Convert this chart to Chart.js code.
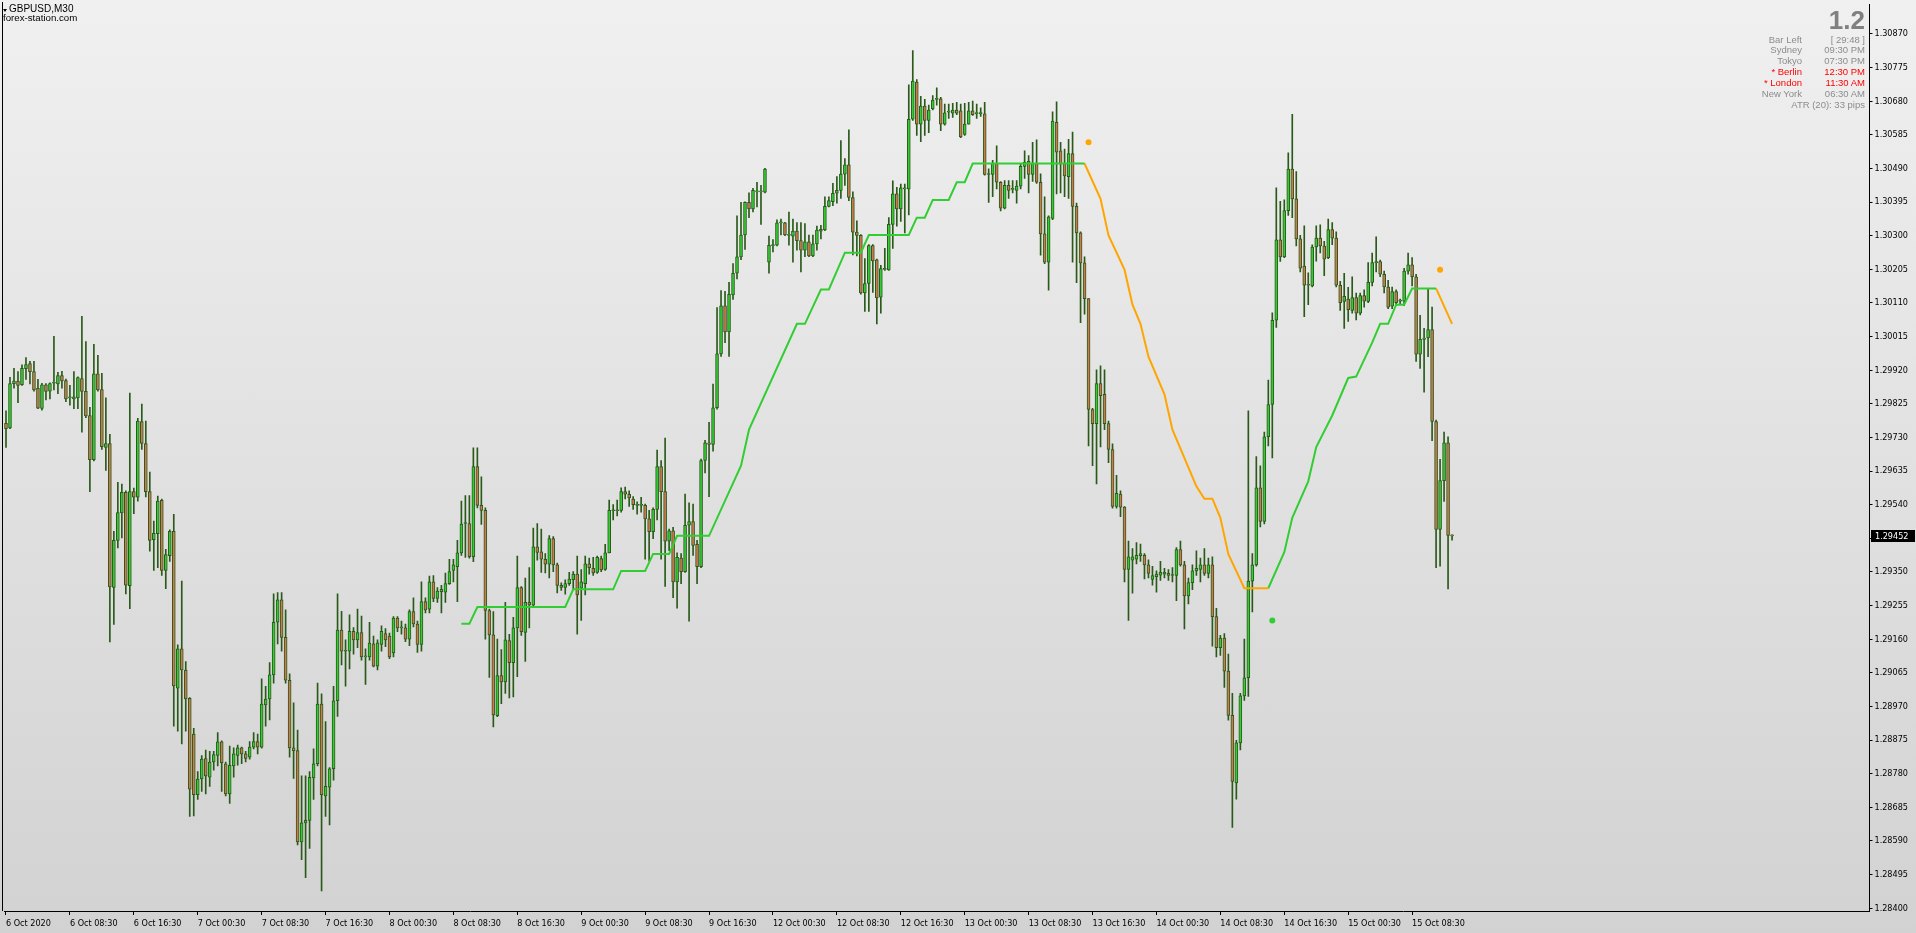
<!DOCTYPE html>
<html><head><meta charset="utf-8">
<script src="https://cdn.jsdelivr.net/npm/chart.js@4.4.0/dist/chart.umd.min.js"></script>
<style>
html,body{margin:0;padding:0;width:1916px;height:933px;overflow:hidden;}
#wrap{position:relative;width:1916px;height:933px;background:linear-gradient(to bottom,#f0f0f0 0%,#d2d2d2 100%);}
canvas{position:absolute;left:0;top:0;}
.t{position:absolute;white-space:nowrap;font-family:"Liberation Sans",Arial,sans-serif;}
#tri{position:absolute;left:3px;top:9px;width:0;height:0;border-left:2px solid transparent;border-right:2px solid transparent;border-top:3px solid #000;}
#sym{left:9px;top:3px;font-size:10px;line-height:11px;color:#000;}
#site{left:3px;top:12px;font-size:9.7px;line-height:11px;color:#000;}
#big{right:51px;top:7px;font-size:26px;line-height:26px;font-weight:bold;color:#808080;}
.lab,.val{font-size:9.5px;line-height:11px;color:#8c8c8c;text-align:right;}
.lab{right:114px;} .val{right:51px;}
.red{color:#ff0000;}
</style></head><body>
<div id="wrap">
<canvas id="c" width="1916" height="933"></canvas>
<div id="tri"></div>
<div class="t" id="sym">GBPUSD,M30</div>
<div class="t" id="site">forex-station.com</div>
<div class="t" id="big">1.2</div>
<div class="t lab" style="top:33.5px">Bar Left</div><div class="t val" style="top:33.5px">[ 29:48 ]</div>
<div class="t lab" style="top:44.4px">Sydney</div><div class="t val" style="top:44.4px">09:30 PM</div>
<div class="t lab" style="top:55.3px">Tokyo</div><div class="t val" style="top:55.3px">07:30 PM</div>
<div class="t lab red" style="top:66.2px">* Berlin</div><div class="t val red" style="top:66.2px">12:30 PM</div>
<div class="t lab red" style="top:77.1px">* London</div><div class="t val red" style="top:77.1px">11:30 AM</div>
<div class="t lab" style="top:88px">New York</div><div class="t val" style="top:88px">06:30 AM</div>
<div class="t val" style="top:99px">ATR (20): 33 pips</div>
</div>
<script>
// ---- data (prices in points, 1 point = 0.00001) ----
const openPts = [
129770,129757,129882,129889,129879,129924,129939,129916,129869,129812,
129879,129861,129883,129881,129905,129891,129842,129839,129842,129896,
129860,129792,129667,129910,129865,129702,129713,129306,129439,129517,
129575,129311,129577,129561,129775,129713,129577,129441,129458,129552,
129354,129396,129465,129022,129133,129073,128993,128892,128721,128765,
128823,128770,128813,128832,128870,128808,128723,128802,128832,128853,
128836,128827,128855,128871,128855,128974,128991,129059,129208,129271,
129165,129044,128853,128845,128587,128641,128648,128768,128808,128977,
128717,128742,128794,128986,129186,129126,129126,129182,129158,129179,
129110,129110,129147,129084,129145,129176,129169,129121,129220,129192,
129192,129160,129238,129203,129145,129266,129245,129322,129275,129294,
129293,129317,129354,129365,129404,129487,129487,129393,129648,129538,
129524,129241,129172,128944,129057,129039,129156,129094,129192,129306,
129179,129264,129256,129421,129407,129386,129372,129444,129370,129312,
129306,129317,129328,129344,129304,129317,129373,129360,129349,129388,
129357,129404,129523,129523,129524,129577,129569,129556,129538,129538,
129538,129500,129464,129527,129648,129577,129437,129466,129322,129389,
129351,129482,129492,129428,129365,129665,129715,129710,129814,129966,
130102,130028,130133,130194,130240,130302,130394,130376,130424,130424,
130423,130225,130272,130273,130336,130336,130301,130299,130313,130286,
130259,130283,130243,130277,130313,130316,130383,130396,130420,130428,
130474,130500,130408,130310,130301,130138,130165,130272,130232,130126,
130205,130203,130332,130418,130376,130432,130432,130629,130734,130615,
130666,130626,130658,130685,130687,130615,130649,130646,130655,130653,
130586,130615,130653,130645,130645,130644,130473,130473,130504,130451,
130378,130442,130431,130428,130440,130496,130510,130473,130504,130451,
130305,130225,130349,130620,130540,130504,130467,130532,130383,130308,
130223,130122,129809,129769,129882,129852,129769,129696,129535,129570,
129533,129357,129383,129386,129396,129397,129370,129329,129337,129341,
129344,129346,129340,129340,129413,129370,129282,129320,129353,129357,
129370,129346,129370,129224,129136,129163,129070,128945,128754,128867,
129000,129051,129324,129370,129588,129493,129732,129823,130061,130288,
130240,130371,130488,130404,130291,130214,130160,130158,130268,130293,
130271,130238,130317,130293,130160,130114,130121,130089,130125,130081,
130131,130114,130168,130224,130227,130191,130155,130101,130142,130115,
130115,130200,130218,130184,129965,130007,130011,130035,129775,129470,
129608,129715,129453];
const highPts = [
129805,129900,129925,129916,129935,129956,129945,129945,129894,129883,
129882,129884,130016,129914,129917,129895,129877,129916,129901,130072,
130001,129815,129993,129962,129911,129842,129739,129465,129603,129598,
129579,129855,129587,129784,129824,129776,129632,129494,129564,129556,
129414,129469,129513,129144,129324,129097,128995,128908,128786,128831,
128847,128843,128843,128896,128873,128813,128858,128853,128861,128855,
128843,128871,128896,128892,129048,129027,129094,129288,129292,129292,
129243,129062,128980,128903,128774,128774,128786,128850,129036,129006,
128927,128797,129027,129288,129239,129158,129229,129193,129245,129225,
129133,129208,129169,129158,129198,129190,129177,129224,129224,129211,
129203,129243,129277,129211,129322,129277,129338,129340,129306,129312,
129347,129386,129386,129439,129550,129566,129566,129701,129701,129619,
129531,129245,129238,129160,129131,129264,129174,129222,129395,129309,
129333,129362,129474,129487,129471,129402,129453,129450,129375,129319,
129328,129349,129351,129395,129357,129395,129389,129391,129395,129395,
129428,129553,129540,129553,129588,129590,129579,129563,129548,129561,
129542,129524,129531,129694,129665,129728,129471,129476,129404,129402,
129570,129545,129542,129439,129669,129722,129773,129881,130097,130145,
130143,130168,130221,130356,130394,130396,130421,130434,130451,130442,
130490,130299,130289,130345,130347,130338,130367,130347,130337,130337,
130334,130302,130302,130327,130329,130410,130410,130448,130467,130569,
130518,130599,130424,130342,130303,130235,130275,130275,130234,130216,
130264,130351,130455,130437,130446,130446,130726,130823,130741,130694,
130685,130669,130696,130718,130691,130672,130672,130674,130677,130672,
130674,130677,130680,130672,130661,130677,130489,130513,130554,130453,
130456,130456,130456,130456,130504,130540,130526,130564,130571,130475,
130410,130356,130650,130678,130564,130545,130572,130593,130392,130311,
130240,130122,129812,129921,129932,129921,129776,129712,129623,129579,
129535,129437,129416,129433,129429,129402,129384,129366,129353,129380,
129360,129357,129362,129419,129437,129380,129333,129370,129410,129389,
129416,129389,129393,129247,129171,129176,129118,129007,128874,129007,
129160,129805,129402,129676,129650,129745,129892,130082,130435,130397,
130401,130534,130643,130481,130301,130328,130195,130274,130328,130331,
130284,130347,130337,130311,130171,130194,130154,130184,130138,130138,
130147,130224,130251,130297,130231,130200,130174,130155,130147,130121,
130208,130251,130238,130191,130075,130038,130151,130098,129779,129668,
129745,129732,129455];
const lowPts = [
129702,129755,129869,129828,129877,129894,129881,129861,129811,129807,
129836,129839,129864,129854,129869,129831,129821,129811,129811,129745,
129786,129577,129664,129861,129696,129637,129152,129202,129418,129446,
129288,129246,129515,129550,129696,129562,129409,129354,129362,129340,
129303,129380,128914,128900,128864,128900,128659,128661,128707,128730,
128723,128744,128790,128802,128730,128717,128696,128770,128804,128808,
128813,128821,128850,128836,128852,128914,128932,129036,129147,129126,
129036,128827,128767,128579,128537,128486,128569,128707,128802,128449,
128659,128635,128762,128942,129087,129027,129076,129118,129136,129101,
129032,129101,129082,129073,129126,129139,129105,129110,129181,129174,
129153,129142,129195,129123,129126,129234,129234,129266,129264,129234,
129264,129315,129322,129266,129397,129391,129389,129379,129531,129484,
129160,129052,128912,128941,128978,129007,128994,128997,129054,129171,
129097,129192,129253,129383,129349,129347,129333,129351,129291,129298,
129287,129312,129301,129174,129213,129285,129344,129340,129346,129351,
129354,129404,129497,129508,129519,129556,129535,129527,129513,129519,
129386,129381,129444,129497,129386,129309,129410,129277,129248,129317,
129349,129211,129397,129317,129362,129630,129563,129691,129810,129959,
129998,129959,130120,130178,130232,130261,130351,130367,130381,130332,
130421,130194,130254,130271,130302,130300,130273,130225,130259,130198,
130241,130241,130241,130259,130291,130314,130381,130385,130392,130405,
130442,130399,130246,130243,130135,130086,130086,130140,130051,130081,
130202,130202,130264,130327,130340,130308,130359,130626,130583,130566,
130583,130591,130655,130669,130597,130612,130631,130634,130642,130577,
130583,130615,130640,130631,130637,130471,130394,130410,130432,130370,
130376,130405,130421,130392,130432,130462,130421,130453,130448,130245,
130221,130146,130345,130418,130421,130410,130405,130225,130167,130054,
130078,129706,129650,129599,129703,129752,129659,129530,129530,129506,
129322,129213,129290,129373,129380,129330,129333,129313,129293,129326,
129333,129326,129322,129269,129366,129189,129260,129300,129340,129322,
129340,129333,129140,129110,129114,129024,128931,128628,128708,128847,
128987,128998,129237,129366,129477,129486,129706,129672,130041,130227,
130238,130357,130351,130271,130198,130071,130105,130155,130228,130251,
130187,130235,130275,130155,130089,130038,130058,130081,130062,130076,
130098,130111,130158,130198,130184,130138,130094,130094,130102,130105,
130102,130191,130158,129945,129925,129858,129958,129721,129362,129366,
129549,129302,129440];
const closePts = [
129755,129882,129889,129877,129925,129936,129916,129864,129813,129879,
129860,129882,129883,129905,129890,129839,129842,129845,129899,129860,
129791,129667,129910,129864,129704,129713,129308,129439,129518,129575,
129313,129577,129561,129776,129713,129577,129439,129459,129550,129354,
129399,129465,129028,129133,129073,128991,128736,128721,128765,128821,
128774,128813,128834,128870,128811,128723,128804,128836,128853,128836,
128823,128855,128871,128855,128977,128991,129059,129208,129271,129165,
129044,128853,128845,128587,128641,128648,128770,128808,128977,128721,
128744,128794,128986,129186,129126,129126,129182,129158,129179,129110,
129110,129149,129084,129150,129182,129158,129110,129220,129192,129192,
129160,129238,129203,129145,129266,129243,129322,129275,129296,129301,
129317,129351,129370,129404,129485,129487,129393,129648,129538,129524,
129241,129172,128946,129057,129039,129158,129094,129192,129306,129181,
129264,129257,129421,129405,129386,129372,129444,129370,129312,129306,
129317,129330,129344,129285,129322,129373,129362,129347,129391,129356,
129404,129524,129523,129523,129577,129570,129559,129540,129538,129538,
129500,129464,129527,129648,129577,129437,129466,129322,129391,129351,
129482,129492,129425,129365,129665,129715,129710,129814,129966,130102,
130028,130134,130194,130240,130302,130394,130376,130428,130424,130424,
130488,130273,130272,130336,130336,130302,130301,130313,130286,130259,
130283,130243,130277,130316,130318,130383,130399,130420,130428,130474,
130500,130408,130310,130301,130138,130165,130272,130229,130124,130207,
130205,130332,130418,130376,130435,130435,130629,130737,130615,130666,
130626,130655,130683,130685,130615,130647,130649,130655,130646,130579,
130615,130653,130642,130645,130645,130473,130473,130504,130451,130378,
130442,130428,130431,130440,130496,130507,130473,130504,130451,130305,
130225,130353,130624,130536,130502,130469,130532,130383,130308,130223,
130122,129809,129769,129882,129848,129769,129696,129535,129572,129533,
129357,129393,129393,129397,129402,129370,129346,129340,129344,129349,
129349,129340,129340,129413,129370,129282,129320,129353,129360,129370,
129346,129370,129224,129136,129163,129070,128945,128758,128867,129000,
129051,129324,129370,129588,129493,129732,129823,130061,130288,130240,
130371,130488,130404,130291,130208,130160,130160,130268,130293,130271,
130234,130317,130293,130160,130111,130129,130091,130125,130081,130131,
130115,130168,130224,130224,130191,130155,130098,130142,130111,130115,
130200,130218,130184,129965,130007,130011,130035,129775,129470,129608,
129715,129453,129452];

// trailing-line vertices (bar index, price in points)
const greenBars1 = [114,116,118,140,142,152,154,160,162,166,168,176,184,186,198,200,204,206,210,214,216,226,228,230,232,236,238,240,242,270];
const greenVals1 = [129204,129204,129251,129251,129301,129301,129353,129353,129401,129401,129452,129452,129650,129752,130051,130051,130148,130148,130252,130252,130302,130302,130351,130351,130401,130401,130451,130451,130504,130504];
const orangeBars1 = [270,274,276,280,282,284,286,290,292,298,300,302,304,306,310,316];
const orangeVals1 = [130504,130404,130301,130204,130105,130051,129958,129852,129752,129592,129557,129557,129503,129400,129304,129304];
const greenBars2 = [316,320,322,326,328,332,336,338,342,344,346,348,350,352,358];
const greenVals2 = [129304,129406,129503,129606,129703,129792,129898,129902,129998,130051,130051,130105,130105,130151,130151];
const orangeBars2 = [358,362];
const orangeVals2 = [130151,130051];
const orangeDotBars = [271,359];
const orangeDotVals = [130564,130204];
const greenDotBars = [317];
const greenDotVals = [129213];

const xTickLabels = ['6 Oct 2020','6 Oct 08:30','6 Oct 16:30','7 Oct 00:30','7 Oct 08:30','7 Oct 16:30','8 Oct 00:30','8 Oct 08:30','8 Oct 16:30','9 Oct 00:30','9 Oct 08:30','9 Oct 16:30','12 Oct 00:30','12 Oct 08:30','12 Oct 16:30','13 Oct 00:30','13 Oct 08:30','13 Oct 16:30','14 Oct 00:30','14 Oct 08:30','14 Oct 16:30','15 Oct 00:30','15 Oct 08:30'];
const yTickLabels = [1.28400,1.28495,1.28590,1.28685,1.28780,1.28875,1.28970,1.29065,1.29160,1.29255,1.29350,1.29445,1.29540,1.29635,1.29730,1.29825,1.29920,1.30015,1.30110,1.30205,1.30300,1.30395,1.30490,1.30585,1.30680,1.30775,1.30870];
// --------------------------------------------------

const P = v => v / 100000;
const open = openPts.map(P), high = highPts.map(P), low = lowPts.map(P), close = closePts.map(P);
const N = open.length;
const SLOTS = 467;          // visible bar slots incl. empty right margin
const LABEL_EVERY = 16;
const Y_MIN = 1.283921, Y_MAX = 1.309546;

const OUTLINE = '#2a5a1a', BULL = '#33cc33', BEAR = '#cd7a4e', GREEN = '#32cd32', ORANGE = '#ffa500';
const AXFONT = {family: '"DejaVu Sans Condensed","Liberation Sans",Arial,sans-serif', size: 9};

const slots = Array.from({length: SLOTS}, (_, i) => String(i));
const wickData = slots.map((_, i) => i < N ? [low[i], high[i]] : null);
const bodyData = slots.map((_, i) => i < N ? [open[i], close[i]] : null);
const series = (bars, vals) => { const a = new Array(SLOTS).fill(null); bars.forEach((b, i) => { a[b] = P(vals[i]); }); return a; };
const tickLabelAt = i => (i % LABEL_EVERY === 0 && i / LABEL_EVERY < xTickLabels.length) ? xTickLabels[i / LABEL_EVERY] : '';
const lineDs = (label, bars, vals, color) => ({label, type: 'line', data: series(bars, vals), borderColor: color, borderWidth: 2,
  pointRadius: 0, pointHoverRadius: 0, tension: 0, spanGaps: true, order: -1});
const dotDs = (label, bars, vals, color) => ({label, type: 'line', showLine: false, data: series(bars, vals),
  pointRadius: 3, pointBackgroundColor: color, pointBorderWidth: 0, borderColor: color, order: -2});

const decor = {
  id: 'decor',
  afterDraw(chart) {
    const {ctx, chartArea: a, scales: {y}} = chart;
    ctx.save();
    ctx.fillStyle = '#000';
    ctx.fillRect(2, 2, 1, a.bottom - 2);
    const last = close[N - 1];
    const py = Math.round(y.getPixelForValue(last));
    ctx.fillRect(Math.round(a.right) + 1, py - 6, 44, 12);
    ctx.fillStyle = '#fff';
    ctx.font = '9px "DejaVu Sans Condensed","Liberation Sans",Arial,sans-serif';
    ctx.textBaseline = 'middle';
    ctx.fillText(last.toFixed(5), Math.round(a.right) + 5, py + 0.5);
    ctx.restore();
  }
};

new Chart(document.getElementById('c'), {
  type: 'bar',
  data: {
    labels: slots,
    datasets: [
      lineDs('green', greenBars1, greenVals1, GREEN),
      lineDs('orange', orangeBars1, orangeVals1, ORANGE),
      lineDs('green2', greenBars2, greenVals2, GREEN),
      lineDs('orange2', orangeBars2, orangeVals2, ORANGE),
      dotDs('odots', orangeDotBars, orangeDotVals, ORANGE),
      dotDs('gdots', greenDotBars, greenDotVals, GREEN),
      {label: 'bodies', data: bodyData, backgroundColor: ctx => (close[ctx.dataIndex] >= open[ctx.dataIndex] ? BULL : BEAR),
        borderColor: OUTLINE, borderWidth: 1, borderSkipped: false, barThickness: 3, minBarLength: 1, grouped: false, order: 0},
      {label: 'wicks', data: wickData, backgroundColor: OUTLINE, borderWidth: 0, barThickness: 1, grouped: false, order: 1}
    ]
  },
  options: {
    responsive: false, animation: false, devicePixelRatio: 1,
    layout: {padding: {left: 1.5, top: 2, right: 0, bottom: 0}},
    plugins: {legend: {display: false}, tooltip: {enabled: false}, title: {display: false}},
    scales: {
      x: {type: 'category', offset: true,
        ticks: {autoSkip: false, maxRotation: 0, minRotation: 0, align: 'start', padding: 3, color: '#000', font: AXFONT,
          callback: (v, i) => tickLabelAt(i)},
        grid: {offset: false, drawOnChartArea: false, drawTicks: true, tickLength: 4,
          color: c => tickLabelAt(c.index) ? '#000' : 'rgba(0,0,0,0)'},
        border: {display: true, color: '#000'},
        afterFit: s => { s.height = 22; s.paddingLeft = 0; s.paddingRight = 0; }
      },
      y: {type: 'linear', position: 'right', min: Y_MIN, max: Y_MAX,
        afterBuildTicks: s => { s.ticks = yTickLabels.map(v => ({value: v})); },
        ticks: {autoSkip: false, padding: 2, color: '#000', font: AXFONT, callback: v => v.toFixed(5)},
        grid: {drawOnChartArea: false, drawTicks: true, tickLength: 3, color: '#000'},
        border: {display: true, color: '#000'},
        afterFit: s => { s.width = 46.5; s.paddingTop = 0; s.paddingBottom = 0; }
      }
    }
  },
  plugins: [decor]
});
</script>
</body></html>
